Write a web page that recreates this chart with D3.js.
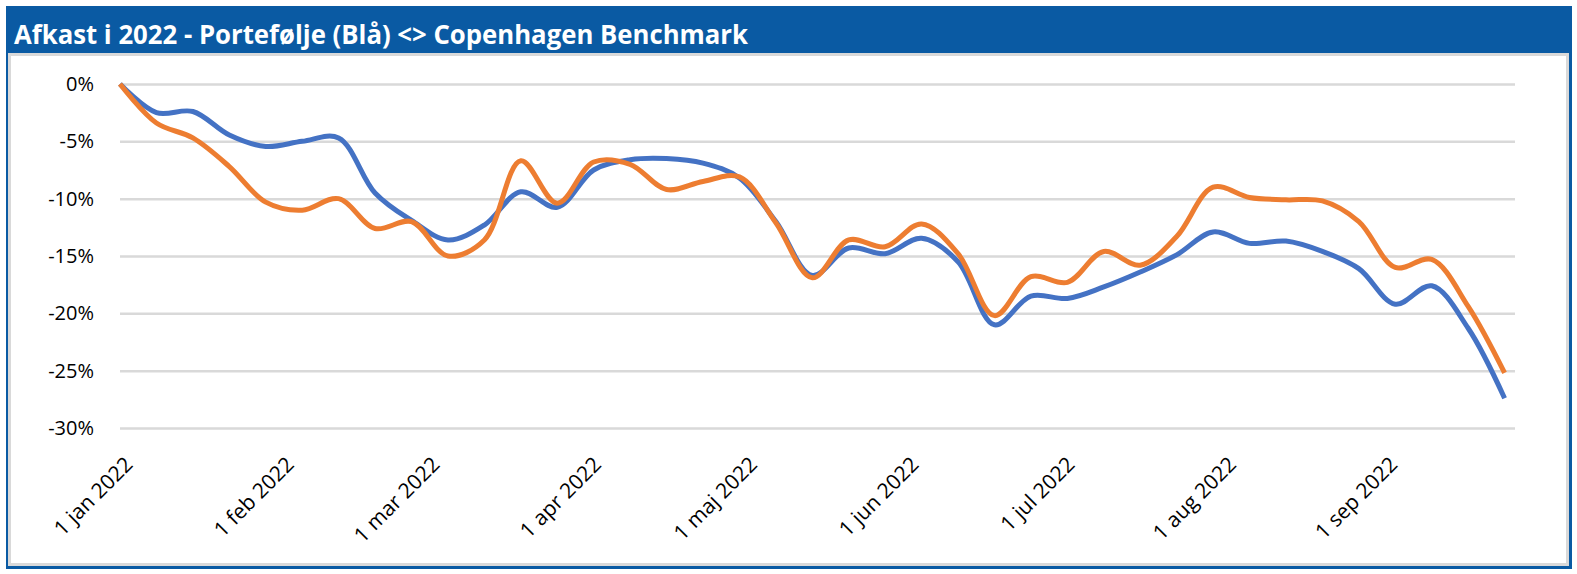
<!DOCTYPE html>
<html>
<head>
<meta charset="utf-8">
<script src="https://cdn.jsdelivr.net/npm/d3@7"></script>
<style>
  html, body { margin: 0; padding: 0; background: #fff; }
  svg { display: block; }
</style>
</head>
<body>
<svg id="chart" width="1577" height="574"></svg>
<script>
// ugentlige datoer (fredage)
const dates = [
  "2021-12-31", "2022-01-07", "2022-01-14", "2022-01-21", "2022-01-28",
  "2022-02-04", "2022-02-11", "2022-02-18", "2022-02-25",
  "2022-03-04", "2022-03-11", "2022-03-18", "2022-03-25",
  "2022-04-01", "2022-04-08", "2022-04-15", "2022-04-22", "2022-04-29",
  "2022-05-06", "2022-05-13", "2022-05-20", "2022-05-27",
  "2022-06-03", "2022-06-10", "2022-06-17", "2022-06-24",
  "2022-07-01", "2022-07-08", "2022-07-15", "2022-07-22", "2022-07-29",
  "2022-08-05", "2022-08-12", "2022-08-19", "2022-08-26",
  "2022-09-02", "2022-09-09", "2022-09-16", "2022-09-23"
];

// Portefølje (blå), afkast i %
const portefolje = [
  0, -2.5, -2.4, -4.45, -5.45, -5.0, -4.7, -9.5, -11.9, -13.6, -12.3, -9.4, -10.75,
  -7.5, -6.6, -6.5, -6.9, -8.2, -12.0, -16.7, -14.3, -14.8, -13.45, -15.5, -21.0,
  -18.5, -18.7, -17.7, -16.4, -14.9, -12.9, -13.9, -13.7, -14.6, -16.1, -19.2,
  -17.6, -21.3, -27.4
];

// Copenhagen Benchmark (orange), afkast i %
const benchmark = [
  0, -3.4, -4.7, -7.2, -10.3, -11.0, -10.0, -12.6, -12.0, -15.0, -13.6, -6.7, -10.4,
  -6.8, -7.0, -9.2, -8.5, -8.1, -12.1, -16.9, -13.6, -14.2, -12.2, -14.8, -20.2,
  -16.8, -17.3, -14.6, -15.8, -13.3, -9.0, -9.9, -10.1, -10.2, -12.0, -16.0,
  -15.3, -19.4, -25.2
];

const yTicks = [0, -5, -10, -15, -20, -25, -30];
const monthTicks = ["2022-01-01", "2022-02-01", "2022-03-01", "2022-04-01", "2022-05-01",
                    "2022-06-01", "2022-07-01", "2022-08-01", "2022-09-01"];
const monthLabels = ["1 jan 2022", "1 feb 2022", "1 mar 2022", "1 apr 2022", "1 maj 2022",
                     "1 jun 2022", "1 jul 2022", "1 aug 2022", "1 sep 2022"];

const title = "Afkast i 2022 - Portefølje (Blå) <> Copenhagen Benchmark";

const parse = d3.timeParse("%Y-%m-%d");
const svg = d3.select("#chart");

// ramme
svg.append("rect")
    .attr("x", 6).attr("y", 6)
    .attr("width", 1566).attr("height", 563)
    .attr("fill", "#0a5aa3");

svg.append("rect")
    .attr("x", 8).attr("y", 53)
    .attr("width", 1561).attr("height", 513)
    .attr("fill", "#d9d9d9");

svg.append("rect")
    .attr("x", 11).attr("y", 56)
    .attr("width", 1555).attr("height", 507)
    .attr("fill", "#ffffff");

svg.append("text")
    .attr("x", 14)
    .attr("y", 44)
    .attr("fill", "#ffffff")
    .attr("font-family", "'Open Sans', 'Noto Sans', sans-serif")
    .attr("font-weight", "bold")
    .attr("font-size", "27px")
    .attr("textLength", 734)
    .attr("lengthAdjust", "spacingAndGlyphs")
    .text(title);

// skalaer
const x = d3.scaleTime()
    .domain([parse("2021-12-31"), parse("2022-09-25")])
    .range([120, 1515]);

const y = d3.scaleLinear()
    .domain([-30, 0])
    .range([428, 84]);

// y-akse med gitterlinjer
const yAxis = d3.axisLeft(y)
    .tickValues(yTicks)
    .tickSize(-(1515 - 120))
    .tickPadding(26)
    .tickFormat(d => d + "%");

const gy = svg.append("g")
    .attr("transform", "translate(120,0)")
    .call(yAxis);

gy.select(".domain").remove();
gy.selectAll(".tick line")
    .attr("stroke", "#d9d9d9")
    .attr("stroke-width", 2.5);
gy.selectAll(".tick text")
    .attr("fill", "#000")
    .attr("font-family", "'Open Sans', 'Noto Sans', sans-serif")
    .attr("font-size", "20px");

// x-akse etiketter (roteret)
const gx = svg.append("g");
gx.selectAll(".xlabel")
    .data(monthTicks)
    .enter()
    .append("text")
    .attr("class", "xlabel")
    .attr("transform", d => `translate(${x(parse(d)) - 2},455) rotate(-45)`)
    .attr("text-anchor", "end")
    .attr("dy", "0.72em")
    .attr("fill", "#000")
    .attr("font-family", "'Open Sans', 'Noto Sans', sans-serif")
    .attr("font-size", "21px")
    .text((d, i) => monthLabels[i]);

// linjer
const line = d3.line()
    .x((d, i) => x(parse(dates[i])))
    .y(d => y(d))
    .curve(d3.curveCatmullRom);

svg.append("path")
    .datum(portefolje)
    .attr("fill", "none")
    .attr("stroke", "#4472c4")
    .attr("stroke-width", 5)
    .attr("stroke-linejoin", "round")
    .attr("d", line);

svg.append("path")
    .datum(benchmark)
    .attr("fill", "none")
    .attr("stroke", "#ed7d31")
    .attr("stroke-width", 5)
    .attr("stroke-linejoin", "round")
    .attr("d", line);
</script>
</body>
</html>
